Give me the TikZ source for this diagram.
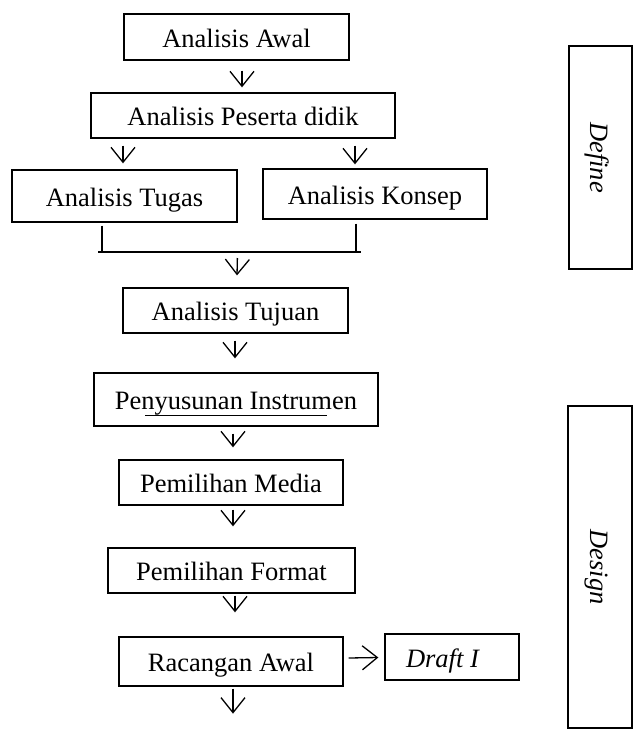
\documentclass[tikz,border=0pt]{standalone}
\usepackage{fontspec}
\setmainfont{Liberation Serif}
\usetikzlibrary{calc,arrows.meta}

\tikzset{
    box/.style={draw, line width=1.3pt, inner sep=0pt, text height=20pt, text depth=0pt,
        font=\fontsize{26.5}{30}\selectfont},
    arr/.style={line width=1.3pt, -{Straight Barb[length=15pt,width=24pt]}},
    line/.style={line width=1.3pt}
}

\begin{document}
\begin{tikzpicture}[x=1pt,y=-1pt]
    \useasboundingbox (0,0) rectangle (635,731);
    \node[box, minimum width=225, minimum height=46] (awal) at (236.5,37) {Analisis Awal};
    \node[box, minimum width=304, minimum height=45] (peserta) at (243,115.5) {Analisis Peserta didik};
    \node[box, minimum width=225, minimum height=52] (tugas) at (124.5,196) {Analisis Tugas};
    \node[box, minimum width=224, minimum height=50] (konsep) at (375,194) {Analisis Konsep};
    \node[box, minimum width=225, minimum height=45] (tujuan) at (235.5,310.5) {Analisis Tujuan};
    \node[box, minimum width=284, minimum height=53] (penyusunan) at (236,399.5) {Penyusunan Instrumen};
    \node[box, minimum width=224, minimum height=45] (media) at (231,482.5) {Pemilihan Media};
    \node[box, minimum width=247, minimum height=45] (format) at (231.5,570.5) {Pemilihan Format};
    \node[box, minimum width=224, minimum height=49] (racangan) at (231,661.5) {Racangan Awal};
    \node[box, minimum width=134, minimum height=46, text width=92, align=flush left] (draft) at (452,657) {\itshape Draft I};
    \node[box, rotate=-90, minimum width=223, minimum height=63] (define) at (600.5,157.5) {\itshape Define};
    \node[box, rotate=-90, minimum width=322, minimum height=64] (design) at (600,567) {\itshape Design};

    \draw[arr] ($(awal.south)+(5.5,10)$) -- ($(peserta.north)+(-1,-5)$);
    \draw[arr] ($(peserta.south)+(-120,7)$) -- ($(tugas.north)+(-1.5,-6)$);
    \draw[arr] ($(peserta.south)+(112,7)$) -- ($(konsep.north)+(-20,-4)$);

    \coordinate (jl) at (98,252);
    \coordinate (jr) at (361,252);
    \coordinate (tl) at ($(tugas.south)+(-22.5,3)$);
    \coordinate (kr) at ($(konsep.south)+(-19,4)$);
    \draw[line] (tl) -- (tl |- jl);
    \draw[line] (kr) -- (kr |- jr);
    \draw[line] (jl) -- (jr);
    \draw[arr] ($(jl)!0.53!(jr)+(0,6)$) -- ($(tujuan.north)+(1.5,-12)$);

    \draw[arr] ($(tujuan.south)+(-0.5,7)$) -- ($(penyusunan.north)+(-1,-14)$);
    \draw[line] ($(penyusunan.south)+(-91,-11)$) -- ($(penyusunan.south)+(91,-11)$);
    \draw[arr] ($(penyusunan.south)+(-3,7)$) -- ($(media.north)+(2,-12)$);
    \draw[arr] ($(media.south)+(2,4)$) -- ($(format.north)+(1.5,-21)$);
    \draw[arr] ($(format.south)+(3.5,2)$) -- ($(racangan.north)+(4,-24)$);
    \draw[arr] ($(racangan.east)+(5,-3.5)$) -- ($(draft.west)+(-6,0.5)$);
    \coordinate (akhir) at ($(racangan.south)+(2,27)$);
    \draw[arr] ($(racangan.south)+(2,2)$) -- (akhir);
\end{tikzpicture}
\end{document}
